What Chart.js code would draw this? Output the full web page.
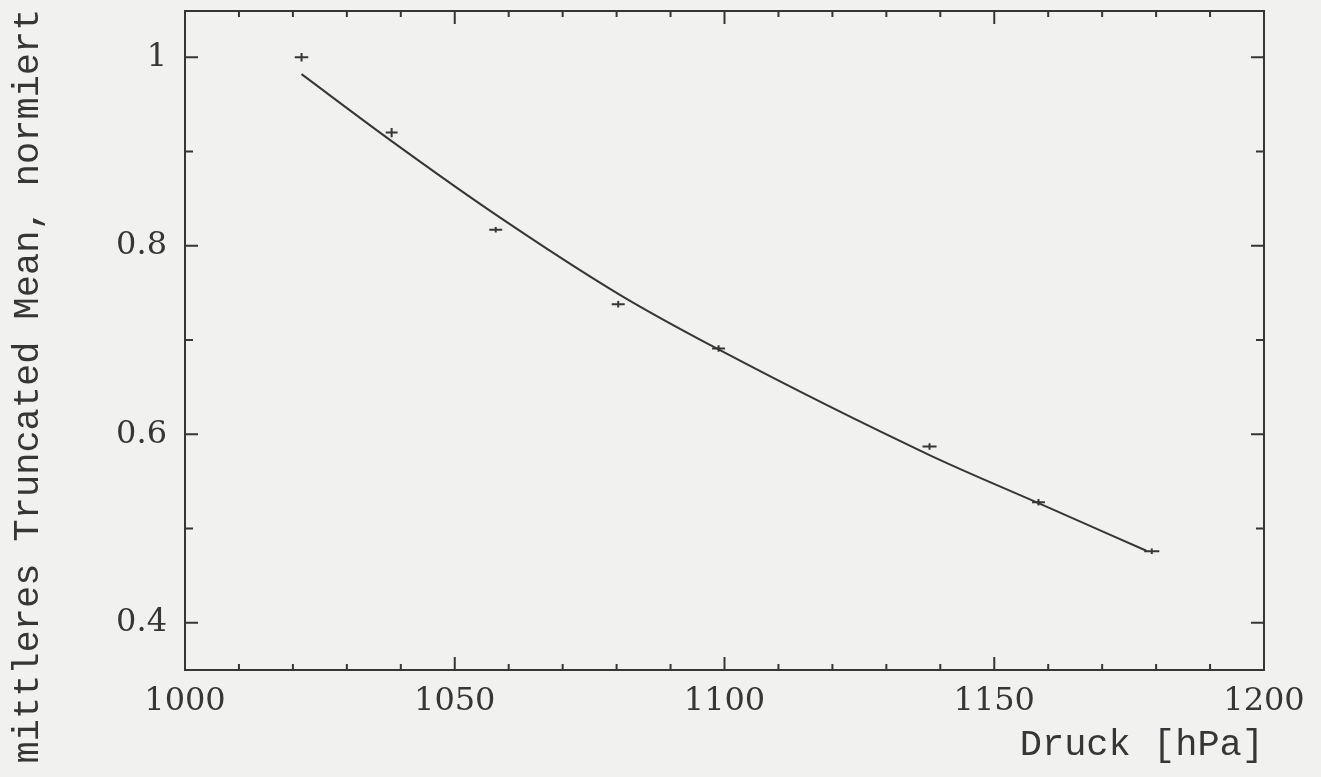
<!DOCTYPE html>
<html>
<head>
<meta charset="utf-8">
<script src="https://cdn.jsdelivr.net/npm/chart.js@4.4.1/dist/chart.umd.min.js"></script>
<style>
  html, body { margin: 0; padding: 0; background: #f1f1ef; }
  #wrap { width: 1321px; height: 777px; position: relative; }
</style>
</head>
<body>
<div id="wrap"><canvas id="myChart"></canvas></div>
<script>
// Messpunkte (Druck in hPa, Truncated Mean normiert)
const pressure = [1021.6, 1038.3, 1057.6, 1080.3, 1098.9, 1138.0, 1158.2, 1179.2];
const truncMean = [1.000, 0.920, 0.817, 0.738, 0.691, 0.587, 0.528, 0.476];
const pressureErr = [1.25, 1.1, 1.2, 1.2, 1.2, 1.3, 1.2, 1.4];
const meanErr = [0.0045, 0.0048, 0.003, 0.0035, 0.0035, 0.0035, 0.0035, 0.003];

// Fitkurve
const fitPressure = [1021.6, 1038.3, 1057.6, 1080.3, 1098.9, 1138.0, 1158.2, 1178.2];
const fitMean = [0.982, 0.911, 0.833, 0.749, 0.690, 0.578, 0.527, 0.4765];

// Achsenbeschriftung
const xTickLabels = [1000, 1050, 1100, 1150, 1200];
const yTickLabels = [0.4, 0.6, 0.8, 1];

const ink = '#363636';
const tickFont = { family: 'DejaVu Serif', size: 32 };

function isLabel(list, v) {
    return list.some(l => Math.abs(l - v) < 1e-6);
}

// Kleine Striche alle 10 hPa bzw. alle 0.1
const xMinor = [];
for (let v = 1000; v <= 1200; v += 10) xMinor.push(v);
const yMinor = [];
for (let v = 4; v <= 10; v++) yMinor.push(v / 10);

// Rahmen, Striche nach innen, Fehlerkreuze, Achsentitel
const framePlugin = {
    id: 'frame',
    afterDraw(chart) {
        const { ctx, chartArea: a, scales: { x, y } } = chart;
        ctx.save();
        ctx.strokeStyle = ink;
        ctx.lineWidth = 2;
        ctx.strokeRect(a.left, a.top, a.right - a.left, a.bottom - a.top);

        ctx.beginPath();
        x.ticks.forEach(t => {
            const px = x.getPixelForValue(t.value);
            const len = isLabel(xTickLabels, t.value) ? 13 : 6;
            ctx.moveTo(px, a.bottom); ctx.lineTo(px, a.bottom - len);
            ctx.moveTo(px, a.top); ctx.lineTo(px, a.top + len);
        });
        y.ticks.forEach(t => {
            const py = y.getPixelForValue(t.value);
            const len = isLabel(yTickLabels, t.value) ? 13 : 8;
            ctx.moveTo(a.left, py); ctx.lineTo(a.left + len, py);
            ctx.moveTo(a.right, py); ctx.lineTo(a.right - len, py);
        });
        ctx.stroke();

        // Fehlerkreuze
        ctx.lineWidth = 2;
        ctx.beginPath();
        pressure.forEach((p, i) => {
            const px = x.getPixelForValue(p);
            const py = y.getPixelForValue(truncMean[i]);
            ctx.moveTo(x.getPixelForValue(p - pressureErr[i]), py);
            ctx.lineTo(x.getPixelForValue(p + pressureErr[i]), py);
            ctx.moveTo(px, y.getPixelForValue(truncMean[i] - meanErr[i]));
            ctx.lineTo(px, y.getPixelForValue(truncMean[i] + meanErr[i]));
        });
        ctx.stroke();

        // Achsentitel
        ctx.fillStyle = ink;
        ctx.font = '37px "Liberation Mono"';
        ctx.textBaseline = 'middle';
        ctx.textAlign = 'right';
        ctx.fillText('Druck [hPa]', a.right, a.bottom + 75);

        ctx.translate(28, 386);
        ctx.rotate(-Math.PI / 2);
        ctx.textAlign = 'center';
        ctx.fillText('mittleres Truncated Mean, normiert', 0, 0);
        ctx.restore();
    }
};

const config = {
    type: 'scatter',
    data: {
        datasets: [
            {
                label: 'Fit',
                data: fitPressure.map((p, i) => ({ x: p, y: fitMean[i] })),
                showLine: true,
                borderColor: ink,
                borderWidth: 2,
                pointRadius: 0,
                cubicInterpolationMode: 'monotone',
            },
            {
                label: 'Messung',
                data: pressure.map((p, i) => ({ x: p, y: truncMean[i] })),
                pointRadius: 0,
                borderColor: ink,
            },
        ],
    },
    options: {
        responsive: true,
        maintainAspectRatio: false,
        animation: false,
        layout: {
            padding: { top: 11, right: 57, left: 0, bottom: 0 },
        },
        plugins: {
            legend: { display: false },
            tooltip: { enabled: false },
        },
        scales: {
            x: {
                type: 'linear',
                min: 1000,
                max: 1200,
                grid: { display: false, drawTicks: false },
                border: { display: false },
                afterBuildTicks: scale => {
                    scale.ticks = xMinor.map(v => ({ value: v }));
                },
                afterFit: scale => {
                    scale.height = 107;
                    scale.paddingLeft = 0;
                    scale.paddingRight = 0;
                },
                ticks: {
                    autoSkip: false,
                    maxRotation: 0,
                    padding: 12,
                    color: ink,
                    font: tickFont,
                    callback: v => isLabel(xTickLabels, v) ? String(v) : '',
                },
            },
            y: {
                type: 'linear',
                min: 0.35,
                max: 1.049,
                grid: { display: false, drawTicks: false },
                border: { display: false },
                afterBuildTicks: scale => {
                    scale.ticks = yMinor.map(v => ({ value: v }));
                },
                afterFit: scale => {
                    scale.width = 185;
                    scale.paddingTop = 0;
                    scale.paddingBottom = 0;
                },
                ticks: {
                    autoSkip: false,
                    padding: 18,
                    color: ink,
                    font: tickFont,
                    callback: v => {
                        const l = yTickLabels.find(t => Math.abs(t - v) < 1e-6);
                        return l === undefined ? '' : String(l);
                    },
                },
            },
        },
    },
    plugins: [framePlugin],
};

const myChart = new Chart(document.getElementById('myChart'), config);
</script>
</body>
</html>
